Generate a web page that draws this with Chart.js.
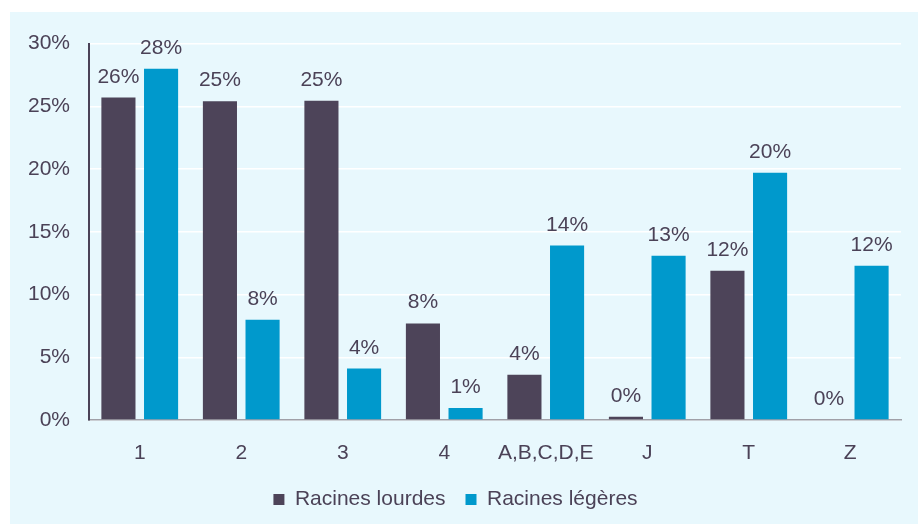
<!DOCTYPE html>
<html>
<head>
<meta charset="utf-8">
<script src="https://cdn.jsdelivr.net/npm/chart.js@4.4.1/dist/chart.umd.min.js"></script>
<style>
  html, body { margin: 0; padding: 0; background: #ffffff; }
  #cadre {
    position: absolute; left: 10px; top: 12px;
    width: 908px; height: 512px;
    background: #e8f8fd;
  }
</style>
</head>
<body>
<div id="cadre"><canvas id="myChart" width="908" height="512"></canvas></div>
<script>
// données
var categories = ["1", "2", "3", "4", "A,B,C,D,E", "J", "T", "Z"];
var racinesLourdes = [25.7, 25.4, 25.45, 7.7, 3.6, 0.25, 11.9, 0];
var racinesLegeres = [28.0, 8.0, 4.1, 0.95, 13.9, 13.1, 19.7, 12.3];
var yTicks = [0, 5, 10, 15, 20, 25, 30];

var texte = '#4b4257';
var police = "'Liberation Sans', Arial, sans-serif";

// étiquettes de valeurs au-dessus des barres
const etiquettes = {
    id: 'etiquettes',
    afterDatasetsDraw(chart) {
        const ctx = chart.ctx;
        ctx.save();
        ctx.font = '21px ' + police;
        ctx.fillStyle = texte;
        ctx.textAlign = 'center';
        ctx.textBaseline = 'alphabetic';
        chart.data.datasets.forEach((ds, i) => {
            chart.getDatasetMeta(i).data.forEach((bar, j) => {
                ctx.fillText(Math.round(ds.data[j]) + '%', bar.x, bar.y - 15);
            });
        });
        ctx.restore();
    }
};

var ctx = document.getElementById('myChart');

var mixedChart = new Chart(ctx, {
    type: 'bar',
    data: {
        labels: categories,
        datasets: [{
            label: 'Racines lourdes',
            data: racinesLourdes,
            backgroundColor: '#4d4459',
            borderWidth: 0
        },
        {
            label: 'Racines légères',
            data: racinesLegeres,
            backgroundColor: '#0099cc',
            borderWidth: 0
        }]
    },
    options: {
        responsive: false,
        animation: false,
        categoryPercentage: 0.84,
        barPercentage: 0.8,
        layout: { padding: { top: 16, right: 17, left: 0, bottom: 4 } },
        plugins: {
            legend: {
                position: 'bottom',
                labels: {
                    boxWidth: 11,
                    boxHeight: 11,
                    padding: 20,
                    color: texte,
                    font: { size: 21, family: police }
                }
            },
            tooltip: { enabled: false }
        },
        scales: {
            x: {
                grid: { display: false },
                border: { display: true, color: '#a0a0a8', width: 1.5 },
                ticks: {
                    color: texte,
                    padding: 13,
                    maxRotation: 0,
                    minRotation: 0,
                    autoSkip: false,
                    font: { size: 21, family: police }
                },
                afterFit: function (axis) { axis.height = 49; }
            },
            y: {
                min: 0,
                max: 30,
                afterBuildTicks: function (axis) {
                    axis.ticks = yTicks.map(v => ({ value: v }));
                },
                grid: { color: '#ffffff', lineWidth: 1.5, drawTicks: false },
                border: { display: true, color: '#4b4257', width: 2 },
                ticks: {
                    color: texte,
                    padding: 19,
                    font: { size: 21, family: police },
                    callback: function (v) { return v + '%'; }
                },
                afterFit: function (axis) { axis.width = 79; }
            }
        }
    },
    plugins: [etiquettes]
});
</script>
</body>
</html>
